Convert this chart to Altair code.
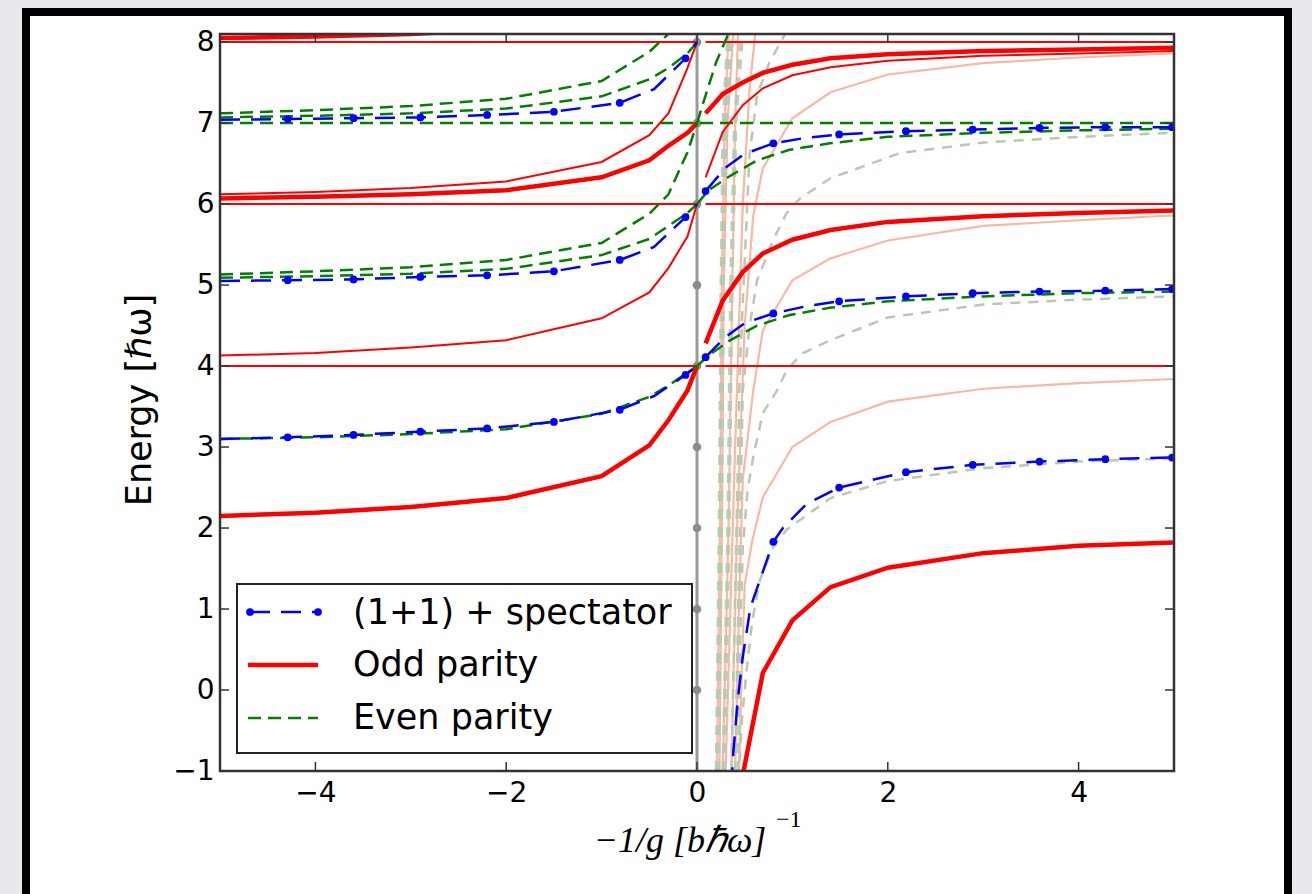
import altair as alt
import pandas as pd

# ---------------- data ----------------
X_LEFT = [-5, -4, -3, -2, -1, -0.5, -0.3, -0.1, 0]
X_RIGHT = [0.09, 0.27, 0.48, 0.69, 1.0, 1.4, 2, 3, 4, 5]

# odd parity, thick red
ODD_L2 = [2.15, 2.19, 2.26, 2.37, 2.64, 3.02, 3.33, 3.70, 4.00]
ODD_L6 = [6.07, 6.09, 6.12, 6.17, 6.33, 6.54, 6.72, 6.88, 7.00]
ODD_L8 = [8.05, 8.07, 8.10, 8.16, 8.33, 8.54, 8.72, 8.88, 9.00]
ODD_R2_X = [0.48, 0.69, 1.0, 1.4, 2, 3, 4, 5]
ODD_R2 = [-1.05, 0.21, 0.86, 1.27, 1.51, 1.69, 1.78, 1.82]
ODD_R4 = [4.28, 4.81, 5.16, 5.39, 5.56, 5.68, 5.78, 5.85, 5.89, 5.92]
ODD_R7 = [7.12, 7.36, 7.50, 7.62, 7.72, 7.80, 7.85, 7.89, 7.91, 7.93]
# odd parity, thin red
ODD_L4 = [4.13, 4.16, 4.23, 4.32, 4.59, 4.91, 5.21, 5.60, 6.00]
ODD_L6B = [6.12, 6.15, 6.20, 6.28, 6.52, 6.85, 7.12, 7.68, 8.00]
ODD_R6 = [6.33, 6.89, 7.22, 7.43, 7.59, 7.69, 7.77, 7.83, 7.86, 7.89]
RED_LEVELS = [4, 6, 8]

# even parity, green dashed
EVEN_L3 = [3.10, 3.12, 3.16, 3.22, 3.41, 3.62, 3.76, 3.92, 4.00]
EVEN_L5A = [5.09, 5.11, 5.14, 5.20, 5.37, 5.57, 5.73, 5.89, 6.00]
EVEN_L5B = [5.13, 5.17, 5.22, 5.31, 5.52, 5.88, 6.12, 6.64, 7.00]
EVEN_L7A = [7.07, 7.09, 7.12, 7.18, 7.33, 7.54, 7.68, 7.86, 8.00]
EVEN_L7B = [7.12, 7.16, 7.21, 7.30, 7.52, 7.88, 8.10, 8.64, 9.00]
EVEN_R_X = [0, 0.12, 0.35, 0.63, 0.97, 1.39, 2, 3, 4, 5]
EVEN_R4 = [4.00, 4.13, 4.32, 4.50, 4.63, 4.72, 4.80, 4.86, 4.90, 4.92]
EVEN_R6 = [6.00, 6.17, 6.35, 6.54, 6.67, 6.75, 6.83, 6.88, 6.91, 6.93]
EVEN_R7_X = [0, 0.1, 0.2, 0.31, 0.4]
EVEN_R7 = [7.00, 7.38, 7.75, 8.05, 8.35]
GREEN_LEVEL = 7

# (1+1) + spectator, blue dashed with dots
BLUE_L_X = [-5, -4.29, -3.6, -2.9, -2.2, -1.5, -0.81, -0.45, -0.12, 0]
BLUE_L3 = [3.10, 3.12, 3.15, 3.19, 3.23, 3.31, 3.46, 3.63, 3.89, 4.00]
BLUE_L5 = [5.05, 5.06, 5.07, 5.10, 5.12, 5.17, 5.31, 5.47, 5.84, 6.00]
BLUE_L7 = [7.04, 7.05, 7.06, 7.07, 7.10, 7.14, 7.25, 7.42, 7.80, 8.00]
BLUE_R2_X = [0.36, 0.38, 0.43, 0.48, 0.56, 0.66, 0.8, 0.9, 1.15, 1.49, 2.19, 2.89, 3.59, 4.28, 4.98, 5]
BLUE_R2 = [-1.2, -0.78, -0.09, 0.41, 1.02, 1.36, 1.83, 2.0, 2.3, 2.5, 2.69, 2.78, 2.82, 2.85, 2.87, 2.87]
BLUE_R_X = [0.09, 0.3, 0.5, 0.8, 1.15, 1.49, 2.19, 2.89, 3.59, 4.28, 4.98, 5]
BLUE_R4 = [4.11, 4.36, 4.53, 4.65, 4.74, 4.80, 4.86, 4.90, 4.92, 4.93, 4.95, 4.95]
BLUE_R6 = [6.16, 6.45, 6.62, 6.75, 6.82, 6.86, 6.90, 6.92, 6.94, 6.95, 6.95, 6.95]
BLUE_MARK_X = [-4.29, -3.6, -2.9, -2.2, -1.5, -0.81, -0.12, 0.09, 0.8, 1.49, 2.19, 2.89, 3.59, 4.28, 4.98]

# faded odd (salmon)
SAL1_X = [0.44, 0.47, 0.5, 0.58, 0.69, 1.0, 1.4, 2, 3, 4, 5]
SAL1 = [-1.0, 0.25, 1.3, 1.85, 2.38, 3.0, 3.31, 3.56, 3.72, 3.79, 3.84]
SAL2_X = [0.4, 0.44, 0.48, 0.59, 0.69, 1.0, 1.4, 2, 3, 4, 5]
SAL2 = [-1.0, 1.0, 2.6, 3.7, 4.44, 5.06, 5.33, 5.55, 5.73, 5.80, 5.86]
SAL3_X = [0.36, 0.42, 0.5, 0.59, 0.69, 1.0, 1.4, 2, 3, 4, 5]
SAL3 = [-1.0, 2.0, 4.5, 5.86, 6.44, 7.06, 7.38, 7.60, 7.74, 7.81, 7.86]
SAL4_X = [0.3, 0.4, 0.48, 0.55, 0.61]
SAL4 = [-1.0, 3.0, 6.0, 7.4, 8.1]
SALV1_X = [0.21, 0.24, 0.26, 0.29, 0.33]
SALV2_X = [0.235, 0.26, 0.28, 0.32, 0.38]
SALV3_X = [0.27, 0.33, 0.37, 0.40, 0.43]
VERT_E = [-1.0, 2.0, 5.0, 7.0, 8.1]

# faded even (grey-green dashed)
FG1_X = [0.44, 0.45, 0.47, 0.52, 0.58, 0.66, 0.8, 0.94, 1.08, 1.4, 2, 3, 4, 5]
FG1 = [-1.1, -0.83, -0.37, 0.25, 0.86, 1.36, 1.77, 1.98, 2.10, 2.37, 2.58, 2.74, 2.82, 2.86]
FG2_X = [0.43, 0.45, 0.48, 0.53, 0.59, 0.69, 0.84, 0.94, 1.11, 1.4, 2, 3, 4, 5]
FG2 = [-1.0, 0.5, 1.77, 2.47, 2.88, 3.42, 3.70, 3.95, 4.16, 4.32, 4.60, 4.76, 4.82, 4.86]
FG3_X = [0.4, 0.44, 0.48, 0.55, 0.63, 0.8, 0.94, 1.08, 1.4, 2.13, 3, 4, 5]
FG3 = [-1.0, 1.5, 3.7, 4.48, 5.06, 5.56, 5.89, 6.07, 6.32, 6.63, 6.76, 6.83, 6.88]
FG4_X = [0.36, 0.45, 0.55, 0.63, 0.76, 0.97, 1.1]
FG4 = [-1.0, 4.0, 6.6, 7.35, 7.75, 8.2, 8.4]
FGV1_X = [0.21, 0.24, 0.26, 0.28, 0.33]
FGV2_X = [0.22, 0.25, 0.27, 0.30, 0.36]
FGV3_X = [0.28, 0.33, 0.36, 0.40, 0.47]

GRAY_DOTS = [0, 1, 2, 3, 4, 5, 6, 7, 8]
X_TICKS = [-4, -2, 0, 2, 4]
Y_TICKS = [-1, 0, 1, 2, 3, 4, 5, 6, 7, 8]

LEGEND_LABELS = ["(1+1) + spectator", "Odd parity", "Even parity"]


# ---------------- helpers ----------------
def series(items):
    rows = []
    for name, xs_, es_ in items:
        for i, (a, b) in enumerate(zip(xs_, es_)):
            rows.append({"s": name, "i": i, "x": a, "E": b})
    return pd.DataFrame(rows)


W, H = 954, 737
XS = alt.Scale(domain=[-5, 5], nice=False, zero=False)
YS = alt.Scale(domain=[-1, 8.1], nice=False, zero=False)
XAX = alt.Axis(values=X_TICKS, ticks=False, domain=False, grid=False, tickSize=0,
               labelFontSize=28, labelFont="DejaVu Sans", labelColor="black",
               labelPadding=8, title=None, zindex=1, format="d")
YAX = alt.Axis(values=Y_TICKS, ticks=False, domain=False, grid=False, tickSize=0,
               labelFontSize=28, labelFont="DejaVu Sans", labelColor="black",
               labelPadding=6, title=None, zindex=1, format="d")


def X(f="x:Q"):
    return alt.X(f, scale=XS, axis=XAX)


def Y(f="E:Q"):
    return alt.Y(f, scale=YS, axis=YAX)


def lines(df, color, width, dash=None, opacity=1.0):
    kw = dict(color=color, strokeWidth=width, clip=True, opacity=opacity)
    if dash:
        kw["strokeDash"] = dash
    return alt.Chart(df).mark_line(**kw).encode(
        x=X(), y=Y(), detail="s:N", order="i:Q")


one = pd.DataFrame({"d": [0]})

# ---------------- layers ----------------
frame_bg = alt.Chart(one).mark_rect(fill="white", stroke="black", strokeWidth=8).encode(
    x=alt.value(-194), x2=alt.value(1068), y=alt.value(-22), y2=alt.value(880))

salmon = lines(series([
    ("s1", SAL1_X, SAL1), ("s2", SAL2_X, SAL2), ("s3", SAL3_X, SAL3), ("s4", SAL4_X, SAL4),
    ("v1", SALV1_X, VERT_E), ("v2", SALV2_X, VERT_E), ("v3", SALV3_X, VERT_E)]),
    "#f7b9a3", 2.2)

faded_green = lines(series([
    ("f1", FG1_X, FG1), ("f2", FG2_X, FG2), ("f3", FG3_X, FG3), ("f4", FG4_X, FG4)]),
    "#b6c9b1", 2.5, dash=[10, 8])
faded_green_v = lines(series([
    ("v1", FGV1_X, VERT_E), ("v2", FGV2_X, VERT_E), ("v3", FGV3_X, VERT_E)]),
    "#b6c9b1", 4.5, dash=[10, 8], opacity=0.9)

gray_line = alt.Chart(pd.DataFrame({"x": [0, 0], "E": [-1, 8.1], "s": ["g", "g"], "i": [0, 1]})).mark_line(
    color="#9a9a9a", strokeWidth=3, clip=True).encode(x=X(), y=Y(), order="i:Q")
gray_dots = alt.Chart(pd.DataFrame({"x": [0] * len(GRAY_DOTS), "E": GRAY_DOTS})).mark_point(
    filled=True, color="#8c8c8c", size=75, opacity=1, clip=True).encode(x=X(), y=Y())

red_levels = alt.Chart(pd.DataFrame(
    [{"x": -5, "x2": 0, "E": e} for e in RED_LEVELS] +
    [{"x": 0.09, "x2": 5, "E": e} for e in RED_LEVELS])).mark_rule(
    color="red", strokeWidth=2, clip=True).encode(x=X(), x2="x2:Q", y=Y())

green_level = alt.Chart(pd.DataFrame({"x": [-5], "x2": [5], "E": [GREEN_LEVEL]})).mark_rule(
    color="green", strokeWidth=2.5, strokeDash=[13, 7], clip=True).encode(x=X(), x2="x2:Q", y=Y())

red_thin = lines(series([
    ("l4", X_LEFT, ODD_L4), ("l6b", X_LEFT, ODD_L6B), ("r6", X_RIGHT, ODD_R6)]), "red", 2)
red_thick = lines(series([
    ("l2", X_LEFT, ODD_L2), ("l6", X_LEFT, ODD_L6), ("l8", X_LEFT, ODD_L8),
    ("r2", ODD_R2_X, ODD_R2), ("r4", X_RIGHT, ODD_R4), ("r7", X_RIGHT, ODD_R7)]), "red", 4.5)

green = lines(series([
    ("l3", X_LEFT, EVEN_L3), ("l5a", X_LEFT, EVEN_L5A), ("l5b", X_LEFT, EVEN_L5B),
    ("l7a", X_LEFT, EVEN_L7A), ("l7b", X_LEFT, EVEN_L7B),
    ("r4", EVEN_R_X, EVEN_R4), ("r6", EVEN_R_X, EVEN_R6), ("r7", EVEN_R7_X, EVEN_R7)]),
    "green", 2.5, dash=[13, 7])

blue_df = series([
    ("l3", BLUE_L_X, BLUE_L3), ("l5", BLUE_L_X, BLUE_L5), ("l7", BLUE_L_X, BLUE_L7),
    ("r2", BLUE_R2_X, BLUE_R2), ("r4", BLUE_R_X, BLUE_R4), ("r6", BLUE_R_X, BLUE_R6)])
blue = lines(blue_df, "blue", 2.5, dash=[20, 11])
blue_pts = alt.Chart(blue_df[blue_df["x"].isin(BLUE_MARK_X)]).mark_point(
    filled=True, color="blue", size=60, opacity=1, clip=True).encode(x=X(), y=Y())

plot_frame = alt.Chart(one).mark_rect(fillOpacity=0, stroke="#333333", strokeWidth=2.5).encode(
    x=alt.value(0), x2=alt.value(W), y=alt.value(0), y2=alt.value(H))

xt = pd.DataFrame({"t": X_TICKS})
yt = pd.DataFrame({"t": Y_TICKS})
tick_kw = dict(color="#333333", strokeWidth=1.5)
ticks = [
    alt.Chart(xt).mark_rule(**tick_kw).encode(x=X("t:Q"), y=alt.value(H), y2=alt.value(H - 9)),
    alt.Chart(xt).mark_rule(**tick_kw).encode(x=X("t:Q"), y=alt.value(0), y2=alt.value(9)),
    alt.Chart(yt).mark_rule(**tick_kw).encode(y=Y("t:Q"), x=alt.value(0), x2=alt.value(9)),
    alt.Chart(yt).mark_rule(**tick_kw).encode(y=Y("t:Q"), x=alt.value(W), x2=alt.value(W - 9)),
]

# legend (drawn by hand)
leg_box = alt.Chart(one).mark_rect(fill="white", stroke="#222222", strokeWidth=2).encode(
    x=alt.value(17), x2=alt.value(472), y=alt.value(550), y2=alt.value(719))
leg_blue = alt.Chart(one).mark_rule(color="blue", strokeWidth=2.5, strokeDash=[20, 11]).encode(
    x=alt.value(30), x2=alt.value(98), y=alt.value(578))
leg_blue_pts = alt.Chart(pd.DataFrame({"px": [30, 98]})).mark_point(
    filled=True, color="blue", size=60, opacity=1).encode(
    x=alt.X("px:Q", scale=None, axis=None), y=alt.value(578))
leg_red = alt.Chart(one).mark_rule(color="red", strokeWidth=4.5).encode(
    x=alt.value(28), x2=alt.value(98), y=alt.value(631))
leg_green = alt.Chart(one).mark_rule(color="green", strokeWidth=2.5, strokeDash=[13, 7]).encode(
    x=alt.value(28), x2=alt.value(98), y=alt.value(684))
leg_text = alt.Chart(pd.DataFrame({"lab": LEGEND_LABELS, "py": [579, 631, 684]})).mark_text(
    align="left", baseline="middle", fontSize=35, font="DejaVu Sans", color="black").encode(
    x=alt.value(133), y=alt.Y("py:Q", scale=None, axis=None), text="lab:N")

# axis titles
y_title = alt.Chart(one).mark_text(
    text="Energy [ℏω]", angle=270, fontSize=35, font="DejaVu Sans", color="black",
    align="center", baseline="middle").encode(x=alt.value(-80), y=alt.value(366))
x_title = alt.Chart(one).mark_text(
    text="−1/g [bℏω]", fontSize=36, font="Liberation Serif", fontStyle="italic",
    color="black", align="center", baseline="middle").encode(x=alt.value(460), y=alt.value(807))
x_title_sup = alt.Chart(one).mark_text(
    text="−1", fontSize=24, font="Liberation Serif", color="black",
    align="left", baseline="middle").encode(x=alt.value(556), y=alt.value(786))

chart = alt.layer(
    frame_bg, salmon, faded_green, faded_green_v, gray_line, gray_dots,
    red_levels, green_level, red_thin, red_thick, green, blue, blue_pts,
    plot_frame, *ticks,
    leg_box, leg_blue, leg_blue_pts, leg_red, leg_green, leg_text,
    y_title, x_title, x_title_sup,
).properties(
    width=W, height=H,
    autosize=alt.AutoSizeParams(type="none"),
    padding={"left": 220, "top": 34, "right": 138, "bottom": 123},
    background="#e7e9ec",
).configure_view(strokeWidth=0)

chart.save("out.html", embed_options={"renderer": "svg", "actions": False})
